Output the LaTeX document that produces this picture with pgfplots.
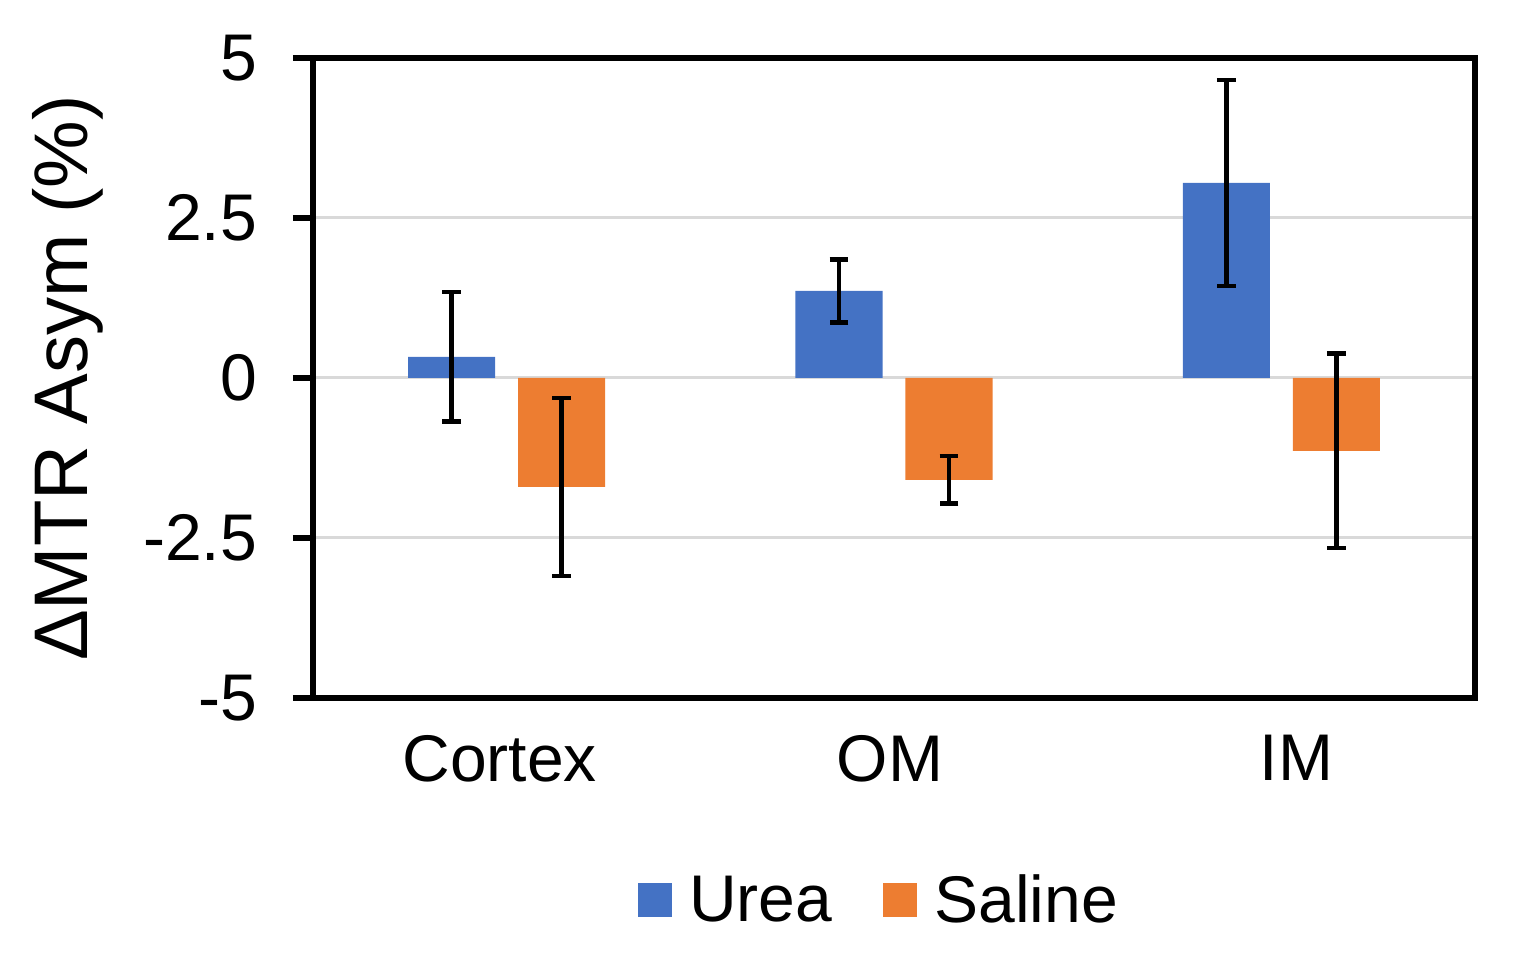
\documentclass[border=0pt]{standalone}
\usepackage{fontspec}
\setmainfont{Liberation Sans}
\usepackage{pgfplots}
\pgfplotsset{compat=1.18}
\definecolor{ureablue}{HTML}{4472C4}
\definecolor{salineorange}{HTML}{ED7D31}
\definecolor{gridgray}{HTML}{D9D9D9}

\begin{document}
\begin{tikzpicture}
\useasboundingbox (-156.5pt,-135.5pt) rectangle (611.5pt,349pt);
\begin{axis}[
    at={(0,0)}, anchor=south west,
    scale only axis,
    width=581pt, height=320pt,
    xmin=-0.5, xmax=2.5,
    ymin=-5, ymax=5,
    xtick={0,1,2},
    xticklabels={Cortex\hspace*{7pt},OM\hspace*{4pt},\hspace*{15pt}IM},
    ytick={-5,-2.5,0,2.5,5},
    yticklabels={-5,-2.5,0,2.5,5},
    ytick pos=left,
    tick align=outside,
    major tick length=10pt,
    major x tick style={draw=none},
    major y tick style={black, line width=3pt},
    ymajorgrids,
    major grid style={gridgray, line width=1.5pt},
    axis line style={line width=3pt},
    ticklabel style={font=\fontsize{33}{38}\selectfont},
    yticklabel style={xshift=-14.5pt},
    xticklabel style={yshift=-5pt},
    ylabel={ΔMTR Asym (\%)},
    every axis y label/.style={at={(axis description cs:0,0.5)}, rotate=90, anchor=center,
        yshift=122.5pt, font=\fontsize{38}{44}\selectfont},
    legend style={at={(axis description cs:0.488,-0.316)}, anchor=center, draw=none,
        font=\fontsize{33}{38}\selectfont, column sep=0pt,
        /tikz/every odd column/.append style={column sep=6.5pt},
        /tikz/every even column/.append style={column sep=23.5pt}},
    legend columns=2,
    legend image code/.code={\fill[#1] (0pt,-8.5pt) rectangle (17pt,8.5pt);},
    error bars/error bar style={black, line width=2.2pt},
    error bars/error mark options={rotate=90, mark size=4.7pt, line width=2.2pt, black},
]
% bars placed directly at their shifted positions so the error bars sit on them
\addplot[ybar, bar width=0.225, bar shift=0, fill=ureablue, draw=none,
    error bars/.cd, y dir=both, y explicit]
    coordinates {
    (-0.142, 0.33) +- (0, 1.01)
    (0.858, 1.36) +- (0, 0.49)
    (1.858, 3.05) +- (0, 1.61)
};
\addplot[ybar, bar width=0.225, bar shift=0, fill=salineorange, draw=none,
    error bars/.cd, y dir=both, y explicit]
    coordinates {
    (0.142, -1.70) +- (0, 1.39)
    (1.142, -1.59) +- (0, 0.37)
    (2.142, -1.14) +- (0, 1.52)
};
\legend{Urea, Saline}
\end{axis}
\end{tikzpicture}
\end{document}
